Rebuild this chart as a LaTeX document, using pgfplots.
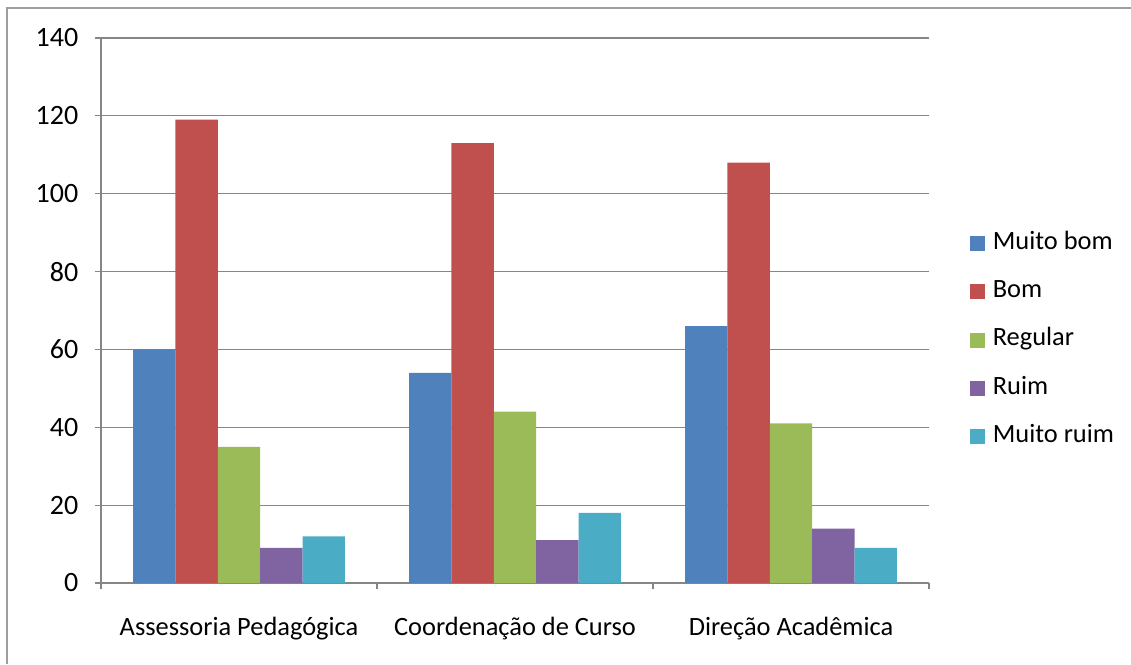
\documentclass[border=0pt]{standalone}
\usepackage{pgfplots}
\pgfplotsset{compat=1.18}
\usepackage{fontspec}
\setmainfont{Carlito}
\definecolor{c1}{HTML}{4F81BD}
\definecolor{c2}{HTML}{C0504D}
\definecolor{c3}{HTML}{9BBB59}
\definecolor{c4}{HTML}{8064A2}
\definecolor{c5}{HTML}{4BACC6}
\definecolor{axgray}{HTML}{868686}
\begin{document}
\begin{tikzpicture}[x=1pt,y=1pt]
\useasboundingbox (0,0) rectangle (848.25,498);
\draw[color=axgray!80, line width=1.4pt] (5.4,0) -- (5.4,491.8) -- (848.25,491.8);
\begin{axis}[
  at={(75.75pt,60.75pt)}, anchor=south west,
  scale only axis, width=621pt, height=408.75pt,
  xmin=-0.5, xmax=2.5, ymin=0, ymax=140,
  ybar=0pt, bar width=0.1536,
  axis x line=bottom, axis y line=left,
  axis line style={draw=axgray, line width=0.9pt, -},
  xtick={0,1,2},
  xticklabels={Assessoria Pedagógica, Coordenação de Curso, Direção Acadêmica},
  major x tick style={draw=none},
  minor xtick={-0.5,0.5,1.5,2.5},
  ytick={0,20,40,60,80,100,120,140},
  tick align=outside,
  major tick length=4.5pt, minor tick length=4.5pt,
  tick style={draw=axgray, line width=0.9pt},
  ymajorgrids, grid style={draw=axgray, line width=0.9pt},
  /pgf/number format/assume math mode=true,
  font=\fontsize{19.8}{23}\selectfont,
  xticklabel style={yshift=-17.5pt},
  yticklabel style={xshift=-9pt, font=\fontsize{21}{24}\selectfont},
  legend style={at={(1.049,0.445)}, anchor=west, draw=none, fill=none,
    inner sep=0pt, row sep=20.2pt, font=\fontsize{19.8}{23}\selectfont,
    nodes={inner sep=0pt, text height=12pt, text depth=4pt}},
  legend cell align=left,
  legend image code/.code={\fill[#1] (0pt,-5.3pt) rectangle (11.25pt,5.9pt); \path (17.25pt,0pt);},
]
\addplot[fill=c1, draw=none] coordinates {(0,60) (1,54) (2,66)};
\addplot[fill=c2, draw=none] coordinates {(0,119) (1,113) (2,108)};
\addplot[fill=c3, draw=none] coordinates {(0,35) (1,44) (2,41)};
\addplot[fill=c4, draw=none] coordinates {(0,9) (1,11) (2,14)};
\addplot[fill=c5, draw=none] coordinates {(0,12) (1,18) (2,9)};
\legend{Muito bom, Bom, Regular, Ruim, Muito ruim}
\end{axis}
\end{tikzpicture}
\end{document}
